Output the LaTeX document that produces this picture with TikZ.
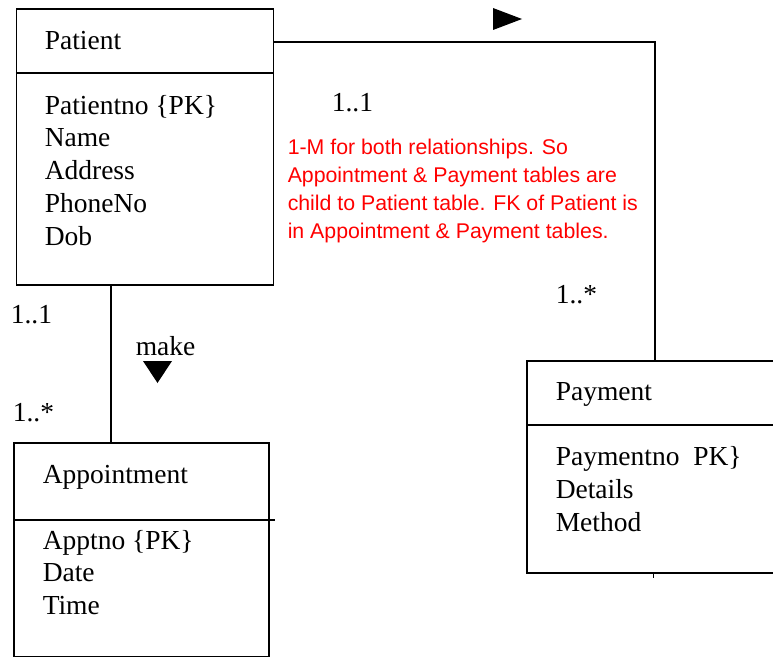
\documentclass[tikz,border=0pt]{standalone}
\usepackage{fontspec}
\setmainfont{Liberation Serif}
\newfontfamily\notefont{Liberation Sans}

\begin{document}
\begin{tikzpicture}[x=1pt, y=-1pt, line width=1.5pt,
    every node/.style={font=\fontsize{27.5}{32.5}\selectfont},
    classbox/.style={draw, rectangle, inner sep=0pt},
    txt/.style={anchor=base west, inner sep=0pt},
    tri/.style={fill=black, line width=0pt}]
         \clip (0, 0) rectangle (773, 658);
         % class boxes
         \node [classbox, minimum width=257, minimum height=276] (PA) at (145, 147) {};
         \node [classbox, minimum width=255, minimum height=213.5] (AP) at (141.5, 549.75) {};
         \node [classbox, minimum width=273, minimum height=212] (PM) at (663.5, 467) {};
         \draw (PA.west |- 0, 73) -- (PA.east |- 0, 73);
         \draw (AP.west |- 0, 520) -- (275, 520);
         \draw (PM.west |- 0, 425) -- (PM.east |- 0, 425);
         % names and attributes
         \node [txt] (PAname) at (44, 50) {Patient};
         \node [txt] (APname) at (42, 483) {Appointment};
         \node [txt] (PMname) at (555, 400) {Payment};
         \foreach \t [count=\i] in {Patientno \{PK\}, Name, Address, PhoneNo, Dob}
             \node [txt] (PA\i) at (44, 114 + 32.8*\i - 32.8) {\t};
         \foreach \t [count=\i] in {Apptno \{PK\}, Date, Time}
             \node [txt] (AP\i) at (42, 549 + 32.7*\i - 32.7) {\t};
         \foreach \t [count=\i] in {Paymentno\ \ PK\}, Details, Method}
             \node [txt] (PM\i) at (555, 465 + 33*\i - 33) {\t};
         % connectors
         \coordinate (bend) at (655, 42);
         \coordinate (mk) at (111, 365);
         \coordinate (tk) at (653, 578);
         \draw (PA.east |- bend) -- (bend) -- (bend |- PM.north);
         \draw (PA.south -| mk) -- (AP.north -| mk);
         \draw [line width=1pt] (PM.south -| tk) -- (tk);
         \fill [tri] (493, 8) -- (522, 19) -- (493, 30) -- cycle;
         \fill [tri] (143, 361) -- (172, 361) -- (157.5, 383) -- cycle;
         % multiplicities
         \node [txt] (LT) at (331, 112) {1..1};
         \node [txt] (RB) at (555, 303) {1..*};
         \node [txt] (LM) at (10, 323) {1..1};
         \node [txt] (LB) at (12, 421) {1..*};
         \node [txt] (MK) at (135, 355) {make};
         % note
         \node [txt, red, align=left, font=\notefont\fontsize{21.3}{27.8}\selectfont] (NT) at (287, 238)
             {1-M for both relationships. So\\Appointment \& Payment tables are\\child to Patient table. FK of Patient is\\in Appointment \& Payment tables.};
\end{tikzpicture}
\end{document}
